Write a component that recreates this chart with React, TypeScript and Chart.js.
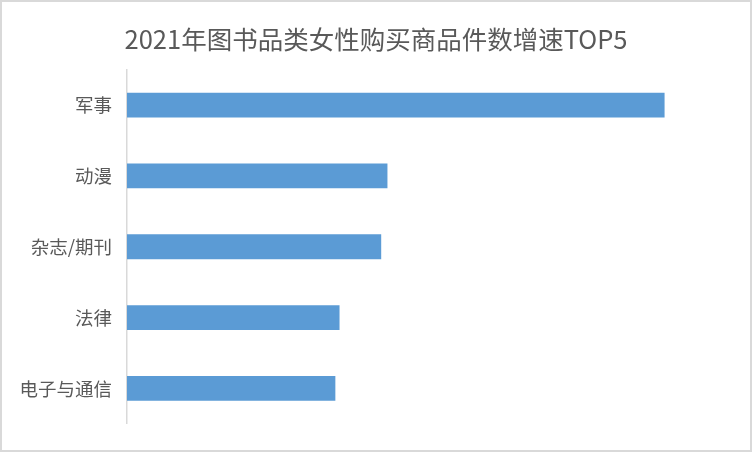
import React, { useEffect, useRef } from 'react';
import { Chart, registerables } from 'chart.js';

Chart.register(...registerables);

const categories = ['军事', '动漫', '杂志/期刊', '法律', '电子与通信'];
const growthValues = [258, 125, 122, 102, 100];
const titleText = '2021年图书品类女性购买商品件数增速TOP5';

const FONT = '"Noto Sans CJK SC", "Noto Sans", sans-serif';

const App: React.FC = () => {
  const chartRef = useRef<HTMLCanvasElement | null>(null);

  useEffect(() => {
    if (!chartRef.current) return;
    const ctx = chartRef.current.getContext('2d');
    if (!ctx) return;
    const chart = new Chart(ctx, {
      type: 'bar',
      data: {
        labels: categories,
        datasets: [
          {
            data: growthValues,
            backgroundColor: '#5b9bd5',
            borderWidth: 0,
            barPercentage: 0.35,
            categoryPercentage: 1,
          },
        ],
      },
      options: {
        indexAxis: 'y',
        animation: false,
        responsive: false,
        layout: { padding: { left: 0, right: 0, top: 0, bottom: 23 } },
        scales: {
          x: {
            display: false,
            min: 0,
            max: 299,
          },
          y: {
            grid: { display: false, drawTicks: false },
            border: { display: true, color: '#d9d9d9', width: 1.5 },
            ticks: {
              color: '#595959',
              padding: 15,
              font: { family: FONT, size: 18.5 },
            },
            afterFit: (scale: any) => {
              scale.width = 125;
            },
          },
        },
        plugins: {
          legend: { display: false },
          tooltip: { enabled: false },
          title: {
            display: true,
            text: titleText,
            color: '#595959',
            font: { family: FONT, size: 25.5, weight: 'normal' },
            padding: { top: 22, bottom: 15 },
          },
        },
      },
    });
    return () => {
      chart.destroy();
    };
  }, []);

  return (
    <div
      style={{
        position: 'fixed',
        left: 0,
        top: 0,
        width: 752,
        height: 452,
        boxSizing: 'border-box',
        border: '2px solid #d9d9d9',
        background: '#fff',
      }}
    >
      <canvas ref={chartRef} width={748} height={448} style={{ display: 'block' }} />
    </div>
  );
};

export default App;
